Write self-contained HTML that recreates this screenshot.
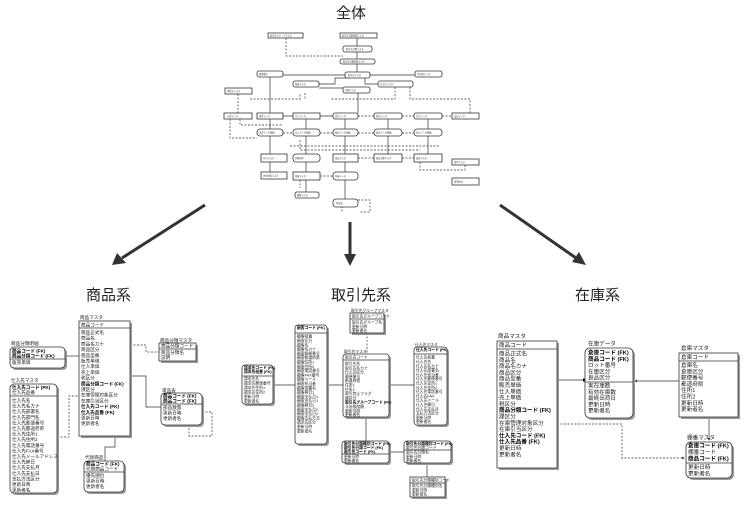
<!DOCTYPE html>
<html><head><meta charset="utf-8"><style>
html,body{margin:0;padding:0;background:#fff;}
svg{display:block;font-family:"Liberation Sans","Noto Sans CJK JP",sans-serif;}
.b{fill:#fff;stroke:#333;stroke-width:.8}
.s{fill:#999}
.l{stroke:#333;stroke-width:.7;fill:none}
.d{stroke:#333;stroke-width:.7;fill:none;stroke-dasharray:2,1.5}
.t{font-size:4.6px;fill:#222}
.tb{font-size:4.6px;fill:#000;font-weight:bold}
.m{font-size:3.8px;fill:#222}
.mb{font-size:3.8px;fill:#000;font-weight:bold}
.r{font-size:5.6px;fill:#222}
.rb{font-size:5.6px;fill:#000;font-weight:bold}
.o{font-size:2.2px;fill:#333}
</style></head><body>
<svg width="750" height="509" viewBox="0 0 750 509">
<defs><marker id="ah" markerWidth="4" markerHeight="4" refX="3" refY="2" orient="auto"><path d="M0,0 L4,2 L0,4z" fill="#333"/></marker></defs>
<text x="351" y="18" font-size="15" text-anchor="middle" fill="#222">全体</text>

<!-- overview -->
<g>
<path class="d" d="M286,38 V56 H343"/>
<path class="l" d="M357,38 V46 M357,52 V59 M357,64 V72 M345,75 H270 V113 M370,75 H415 M350,78 L335,78 V84 H319 M365,78 V84 L382,84 M319,88 H343 M358,93 V113 M270,119 V129 M306,119 V129 M345,119 V129 M388,119 V129 M428,119 V129 M270,136 V154 M306,136 V154 M345,136 V154 M388,136 V154 M428,136 V154 M345,162 V172 M306,162 V172 M270,162 V172 M345,180 V199 M306,180 V192 M283,116 H293 M320,116 H333"/>
<path class="d" d="M238,94 V113 M250,99 H300 V93 M305,93 V99 M395,87 V99 H330 M410,87 V99 H470 V113 M358,116 H374 M402,116 H414 M442,116 H452 M230,119 V138 H257 M240,119 V125 H283 M283,133 H293 M320,133 H333 M358,133 H374 M402,133 H414 M300,140 V150 H420 M290,146 H440 M358,158 H374 M402,158 H414 M420,162 V170 H465 V165 M320,176 H333 M358,200 H370 V212 H360 M300,180 V188 M342,206 V212"/>
<rect class="b" x="268" y="33" width="35" height="5"/><text class="o" x="270" y="36.6">取引先グループマスタ</text>
<rect class="b" x="340" y="33" width="37" height="5"/><text class="o" x="342" y="36.6">取引先分類明細マスタ</text>
<rect class="b" x="343" y="46" width="29" height="6" rx="2"/><text class="o" x="346" y="49.8">取引先分類マスタ</text>
<rect class="b" x="340" y="59" width="35" height="5" rx="2"/><text class="o" x="343" y="62.6">取引先分類明細マスタ</text>
<rect class="b" x="345" y="72" width="25" height="6" rx="2"/><text class="o" x="348" y="75.8">取引先マスタ</text>
<rect class="b" x="257" y="71" width="26" height="6" rx="2"/><text class="o" x="259" y="74.8">郵便番号</text>
<rect class="b" x="415" y="71" width="27" height="6" rx="2"/><text class="o" x="417" y="74.8">不定期データ</text>
<rect class="b" x="293" y="81" width="26" height="6" rx="2"/><text class="o" x="295" y="84.8">倉庫マスタ</text>
<rect class="b" x="343" y="87" width="27" height="6" rx="2"/><text class="o" x="345" y="90.8">分類マスタ</text>
<rect class="b" x="378" y="81" width="35" height="6" rx="2"/><text class="o" x="380" y="84.8">仕入先マスタ</text>
<rect class="b" x="225" y="88" width="27" height="6"/><text class="o" x="227" y="91.8">得意先マスタ</text>
<g>
<rect class="b" x="224" y="113" width="28" height="6"/><text class="o" x="227" y="116.8">入金データ</text>
<rect class="b" x="257" y="113" width="26" height="6"/><text class="o" x="259" y="116.8">請求データ</text>
<rect class="b" x="293" y="113" width="27" height="6"/><text class="o" x="295" y="116.8">売上データ</text>
<rect class="b" x="333" y="113" width="25" height="6" rx="2"/><text class="o" x="335" y="116.8">受注データ</text>
<rect class="b" x="374" y="113" width="28" height="6" rx="2"/><text class="o" x="376" y="116.8">発注データ</text>
<rect class="b" x="414" y="113" width="28" height="6" rx="2"/><text class="o" x="416" y="116.8">仕入データ</text>
<rect class="b" x="452" y="113" width="27" height="6"/><text class="o" x="454" y="116.8">支払データ</text>
<rect class="b" x="257" y="129" width="26" height="7" rx="3"/><text class="o" x="259" y="133.3">請求データ明細</text>
<rect class="b" x="293" y="129" width="27" height="7" rx="3"/><text class="o" x="295" y="133.3">売上データ明細</text>
<rect class="b" x="333" y="129" width="25" height="7" rx="3"/><text class="o" x="335" y="133.3">受注データ明細</text>
<rect class="b" x="374" y="129" width="28" height="7" rx="3"/><text class="o" x="376" y="133.3">発注データ明細</text>
<rect class="b" x="414" y="129" width="28" height="7" rx="3"/><text class="o" x="416" y="133.3">仕入データ明細</text>
<rect class="b" x="261" y="154" width="26" height="8"/><text class="o" x="263" y="158.8">SEQマスタ</text>
<rect class="b" x="293" y="154" width="27" height="8" rx="3"/><text class="o" x="295" y="158.8">消費税率</text>
<rect class="b" x="333" y="154" width="25" height="8"/><text class="o" x="335" y="158.8">商品マスタ</text>
<rect class="b" x="374" y="154" width="28" height="8"/><text class="o" x="376" y="158.8">商品分類マスタ</text>
<rect class="b" x="414" y="154" width="28" height="8"/><text class="o" x="416" y="158.8">社員マスタ</text>
<rect class="b" x="452" y="159" width="27" height="6"/><text class="o" x="454" y="162.8">部門マスタ</text>
<rect class="b" x="261" y="172" width="26" height="7"/><text class="o" x="263" y="176.3">会社情報マスタ</text>
<rect class="b" x="293" y="172" width="27" height="8"/><text class="o" x="295" y="176.8">倉庫マスタ</text>
<rect class="b" x="333" y="172" width="25" height="8" rx="3"/><text class="o" x="335" y="176.8">在庫データ</text>
<rect class="b" x="452" y="178" width="27" height="7"/><text class="o" x="454" y="182.3">部門社員</text>
<rect class="b" x="295" y="192" width="24" height="6" rx="2"/><text class="o" x="297" y="195.8">棚番マスタ</text>
<rect class="b" x="333" y="199" width="25" height="8" rx="3"/><text class="o" x="336" y="203.8">単品表</text>
</g>
</g>

<!-- big arrows -->
<path d="M205,205 L122,258" stroke="#333" stroke-width="3"/><path d="M112,265 L117,253 L126,263z" fill="#333"/>
<path d="M350,222 L350,256" stroke="#333" stroke-width="3"/><path d="M344,254 L356,254 L350,266z" fill="#333"/>
<path d="M500,205 L576,258" stroke="#333" stroke-width="3"/><path d="M586,265 L572,262 L579,252z" fill="#333"/>
<text x="86" y="300" font-size="15" fill="#222">商品系</text>
<text x="331" y="300" font-size="15" fill="#222">取引先系</text>
<text x="575" y="300" font-size="15" fill="#222">在庫系</text>

<!-- 商品系 -->
<g>
<path class="l" d="M79,356 H65"/><circle cx="66" cy="356" r="1.2" fill="#000"/>
<path class="l" d="M130,376 H146 V407 H161"/>
<path class="d" d="M130,345 H146 V352 H159"/>
<path class="d" d="M57,437 H69 V396 H79"/>
<path class="l" d="M115,436 V447 H105 V461"/>
<path class="d" d="M202,412 H212 V436 H189 V426"/>
<text class="t" x="80" y="319">商品マスタ</text>
<rect class="s" x="81" y="323" width="51" height="115"/><rect class="b" x="79" y="321" width="51" height="115"/>
<line class="l" x1="79" y1="328" x2="130" y2="328"/>
<text class="t" x="81" y="326.5">商品コード</text>
<g class="t">
<text x="81" y="334">商品正式名</text><text x="81" y="339.7">商品名</text><text x="81" y="345.4">商品名カナ</text><text x="81" y="351.1">商品区分</text><text x="81" y="356.8">商品型番</text><text x="81" y="362.5">販売単価</text><text x="81" y="368.2">仕入単価</text><text x="81" y="373.9">売上単価</text><text x="81" y="379.6">税区分</text>
<text x="81" y="385.3" class="tb">商品分類コード (FK)</text>
<text x="81" y="391">課区分</text><text x="81" y="396.7">在庫管理対象区分</text><text x="81" y="402.4">在庫引当区分</text>
<text x="81" y="408.1" class="tb">仕入先コード (FK)</text><text x="81" y="413.8" class="tb">仕入先品番 (FK)</text>
<text x="81" y="419.5">更新日時</text><text x="81" y="425.2">更新者名</text>
</g>
<text class="t" x="11" y="345">商品分類明細</text>
<rect class="s" x="12" y="349" width="55" height="21" rx="4"/><rect class="b" x="10" y="347" width="55" height="21" rx="4"/>
<line class="l" x1="10" y1="359" x2="65" y2="359"/>
<text class="tb" x="12" y="352.5">商品コード (FK)</text><text class="tb" x="12" y="357.5">商品分類コード (FK)</text><text class="t" x="12" y="364">販売単価</text>
<text class="t" x="11" y="382">仕入先マスタ</text>
<rect class="s" x="12" y="386" width="47" height="109" rx="4"/><rect class="b" x="10" y="384" width="47" height="109" rx="4"/>
<line class="l" x1="10" y1="396" x2="57" y2="396"/>
<g class="t"><text x="12" y="389" class="tb">仕入先コード (PK)</text><text x="12" y="394">仕入先品番</text>
<text x="12" y="402">仕入先名</text><text x="12" y="407.6">仕入先名カナ</text><text x="12" y="413.2">仕入先部署名</text><text x="12" y="418.8">仕入先部門名</text><text x="12" y="424.4">仕入先郵便番号</text><text x="12" y="430">仕入先都道府県</text><text x="12" y="435.6">仕入先住所1</text><text x="12" y="441.2">仕入先住所2</text><text x="12" y="446.8">仕入先電話番号</text><text x="12" y="452.4">仕入先FAX番号</text><text x="12" y="458">仕入先メールアドレス</text><text x="12" y="463.6">仕入先締日</text><text x="12" y="469.2">仕入先支払月</text><text x="12" y="474.8">仕入先支払日</text><text x="12" y="480.4">支払方法区分</text><text x="12" y="486">更新日時</text><text x="12" y="491.6">更新者名</text></g>
<text class="t" x="160" y="342">商品分類マスタ</text>
<rect class="s" x="161" y="345" width="37" height="18"/><rect class="b" x="159" y="343" width="37" height="18"/>
<line class="l" x1="159" y1="349" x2="196" y2="349"/>
<text class="t" x="161" y="347.5">商品分類コード</text><text class="t" x="161" y="353.8">商品分類名</text><text class="t" x="161" y="359">説明</text>
<text class="t" x="162" y="392">単品表</text>
<rect class="s" x="163" y="395" width="41" height="32" rx="4"/><rect class="b" x="161" y="393" width="41" height="32" rx="4"/>
<line class="l" x1="161" y1="404" x2="202" y2="404"/>
<text class="tb" x="163" y="397.5">商品コード (FK)</text><text class="tb" x="163" y="402.5">商品コード (FK)</text>
<text class="t" x="163" y="409">部品数量</text><text class="t" x="163" y="414.6">更新日時</text><text class="t" x="163" y="420.2">更新者名</text>
<text class="t" x="85" y="459">代替商品</text>
<rect class="s" x="86" y="463" width="40" height="31" rx="4"/><rect class="b" x="84" y="461" width="40" height="31" rx="4"/>
<line class="l" x1="84" y1="472" x2="124" y2="472"/>
<text class="tb" x="86" y="465.5">商品コード (FK)</text><text class="t" x="86" y="470.5">代替商品コード</text>
<text class="t" x="86" y="477">優先順位</text><text class="t" x="86" y="482.6">更新日時</text><text class="t" x="86" y="488.2">更新者名</text>
</g>

<!-- 取引先系 -->
<g>
<path class="l" d="M295,385 H273 M343,385 H327 M389,385 H414 M366,417 V441 M404,452 H389 M427,463 V477"/>
<path class="d" d="M367,333 V354"/>
<rect class="s" x="244" y="367" width="31" height="39" rx="3"/><rect class="b" x="242" y="365" width="31" height="39" rx="3"/>
<line class="l" x1="242" y1="376" x2="273" y2="376"/>
<g class="m"><text x="244" y="369" class="mb">請求先コード (FK)</text><text x="244" y="373" class="mb">請求先枝番 (FK)</text><text x="244" y="380">請求先名</text><text x="244" y="384.5">請求先郵便番号</text><text x="244" y="389">請求先住所1</text><text x="244" y="393.5">請求先住所2</text><text x="244" y="398">更新日時</text><text x="244" y="402.3">更新者名</text></g>
<rect class="s" x="297" y="327" width="32" height="119" rx="3"/><rect class="b" x="295" y="325" width="32" height="119" rx="3"/>
<line class="l" x1="295" y1="333" x2="327" y2="333"/>
<g class="m"><text x="297" y="329" class="mb">顧客コード (PK)</text><text x="297" y="337.5">顧客枝番</text>
<text x="297" y="342">顧客区分</text><text x="297" y="346.3">顧客名</text><text x="297" y="350.6">顧客名カナ</text><text x="297" y="354.9">顧客郵便番号</text><text x="297" y="359.2">顧客都道府県</text><text x="297" y="363.5">顧客住所1</text><text x="297" y="367.8">顧客住所2</text><text x="297" y="372.1">顧客電話番号</text><text x="297" y="376.4">顧客FAX番号</text><text x="297" y="380.7">顧客メール</text><text x="297" y="385">顧客担当者</text><text x="297" y="389.3">顧客部署名</text><text x="297" y="393.6">顧客締日1</text><text x="297" y="397.9">顧客支払月1</text><text x="297" y="402.2">顧客支払日1</text><text x="297" y="406.5">顧客締日2</text><text x="297" y="410.8">顧客支払月2</text><text x="297" y="415.1">顧客支払日2</text><text x="297" y="419.4">顧客支払方法</text><text x="297" y="423.7">請求先区分</text><text x="297" y="428">更新日時</text><text x="297" y="432.3">更新者名</text></g>
<text class="m" x="351" y="312">取引先グループマスタ</text>
<rect class="s" x="352" y="315" width="34" height="20"/><rect class="b" x="350" y="313" width="34" height="20"/>
<line class="l" x1="350" y1="319" x2="384" y2="319"/>
<text class="m" x="352" y="317.5">取引先グループコード</text><text class="m" x="352" y="323.5">取引先グループ名</text><text class="m" x="352" y="327.8">更新日時</text><text class="m" x="352" y="332">更新者名</text>
<text class="m" x="344" y="353">取引先マスタ</text>
<rect class="s" x="345" y="356" width="46" height="63" rx="3"/><rect class="b" x="343" y="354" width="46" height="63" rx="3"/>
<line class="l" x1="343" y1="360" x2="389" y2="360"/>
<g class="m"><text x="345" y="358.5">取引先コード</text><text x="345" y="365">取引先名</text><text x="345" y="369.3">取引先名カナ</text><text x="345" y="373.6">仕入先区分</text><text x="345" y="377.9">郵便番号</text><text x="345" y="382.2">都道府県</text><text x="345" y="386.5">住所1</text><text x="345" y="390.8">住所2</text><text x="345" y="395.1">取引禁止フラグ</text><text x="345" y="399.4">雑区分</text><text x="345" y="403.7" class="mb">取引先グループコード (FK)</text><text x="345" y="408">与信限度額</text><text x="345" y="412.3">更新日時</text><text x="345" y="416.2">更新者名</text></g>
<text class="m" x="415" y="346">仕入先マスタ</text>
<rect class="s" x="416" y="349" width="33" height="78" rx="3"/><rect class="b" x="414" y="347" width="33" height="78" rx="3"/>
<line class="l" x1="414" y1="354" x2="447" y2="354"/>
<g class="m"><text x="416" y="351" class="mb">仕入先コード (PK)</text><text x="416" y="358.5">仕入先枝番</text><text x="416" y="363">仕入先名</text><text x="416" y="367.3">仕入先名カナ</text><text x="416" y="371.6">仕入先部署名</text><text x="416" y="375.9">仕入先担当者</text><text x="416" y="380.2">仕入先郵便番号</text><text x="416" y="384.5">仕入先住所1</text><text x="416" y="388.8">仕入先住所2</text><text x="416" y="393.1">仕入先電話番号</text><text x="416" y="397.4">仕入先FAX</text><text x="416" y="401.7">仕入先メール</text><text x="416" y="406">仕入先締日</text><text x="416" y="410.3">仕入先支払月</text><text x="416" y="414.6">支払方法区分</text><text x="416" y="418.9">更新日時</text><text x="416" y="423">更新者名</text></g>
<rect class="s" x="344" y="443" width="47" height="22" rx="3"/><rect class="b" x="342" y="441" width="47" height="22" rx="3"/>
<line class="l" x1="342" y1="454" x2="389" y2="454"/>
<text class="mb" x="344" y="445">取引先分類種別コード (FK)</text><text class="mb" x="344" y="449">取引先分類コード (FK)</text><text class="mb" x="344" y="453">取引先コード (FK)</text><text class="m" x="344" y="458">更新日時</text><text class="m" x="344" y="462">更新者名</text>
<rect class="s" x="406" y="443" width="47" height="22" rx="3"/><rect class="b" x="404" y="441" width="47" height="22" rx="3"/>
<line class="l" x1="404" y1="450" x2="451" y2="450"/>
<text class="mb" x="406" y="445">取引先分類種別コード (FK)</text><text class="m" x="406" y="449">取引先分類コード</text><text class="m" x="406" y="453.5">取引先分類名</text><text class="m" x="406" y="458">更新日時</text><text class="m" x="406" y="462">更新者名</text>
<rect class="s" x="412" y="479" width="35" height="20"/><rect class="b" x="410" y="477" width="35" height="20"/>
<line class="l" x1="410" y1="483" x2="445" y2="483"/>
<text class="m" x="412" y="481.5">取引先分類種別コード</text><text class="m" x="412" y="487">取引先分類種別名</text><text class="m" x="412" y="491.3">更新日時</text><text class="m" x="412" y="495.5">更新者名</text>
</g>

<!-- 在庫系 -->
<g>
<path class="l" d="M557,380 H585"/><rect x="583" y="378.5" width="3" height="3" fill="#000"/>
<path class="l" d="M679,381 H635" marker-end="url(#ah)"/>
<path class="l" d="M709,417 V440" marker-end="url(#ah)"/>
<path class="d" d="M557,424 H622 V458 H684" marker-end="url(#ah)"/>
<text class="r" x="498" y="338">商品マスタ</text>
<rect class="s" x="499" y="343" width="60" height="127"/><rect class="b" x="497" y="341" width="60" height="127"/>
<line class="l" x1="497" y1="349" x2="557" y2="349"/>
<text class="r" x="499" y="347">商品コード</text>
<g class="r"><text x="499" y="355.5">商品正式名</text><text x="499" y="361.8">商品名</text><text x="499" y="368.1">商品名カナ</text><text x="499" y="374.4">商品区分</text><text x="499" y="380.7">商品型番</text><text x="499" y="387">販売単価</text><text x="499" y="393.3">仕入単価</text><text x="499" y="399.6">売上単価</text><text x="499" y="405.9">税区分</text><text x="499" y="412.2" class="rb">商品分類コード (FK)</text><text x="499" y="418.5">課区分</text><text x="499" y="424.8">在庫管理対象区分</text><text x="499" y="431.1">在庫引当区分</text><text x="499" y="437.4" class="rb">仕入先コード (FK)</text><text x="499" y="443.7" class="rb">仕入先品番 (FK)</text><text x="499" y="450">更新日時</text><text x="499" y="456.3">更新者名</text></g>
<text class="r" x="588" y="345.5">在庫データ</text>
<rect class="s" x="587" y="350" width="48" height="70" rx="5"/><rect class="b" x="585" y="348" width="48" height="70" rx="5"/>
<line class="l" x1="585" y1="382" x2="633" y2="382"/>
<g class="r"><text x="588" y="354.5" class="rb">倉庫コード (FK)</text><text x="588" y="360.8" class="rb">商品コード (FK)</text><text x="588" y="367.1">ロット番号</text><text x="588" y="373.4">在庫区分</text><text x="588" y="379.7">良品区分</text><text x="588" y="387.5">実在庫数</text><text x="588" y="393.8">有効在庫数</text><text x="588" y="400.1">最終出荷日</text><text x="588" y="406.4">更新日時</text><text x="588" y="412.7">更新者名</text></g>
<text class="r" x="681" y="350">倉庫マスタ</text>
<rect class="s" x="681" y="355" width="59" height="64"/><rect class="b" x="679" y="353" width="59" height="64"/>
<line class="l" x1="679" y1="361" x2="738" y2="361"/>
<g class="r"><text x="681" y="359">倉庫コード</text><text x="681" y="367">倉庫名</text><text x="681" y="373.3">倉庫区分</text><text x="681" y="379.6">郵便番号</text><text x="681" y="385.9">都道府県</text><text x="681" y="392.2">住所1</text><text x="681" y="398.5">住所2</text><text x="681" y="404.8">更新日時</text><text x="681" y="411.1">更新者名</text></g>
<text class="r" x="687" y="439.5">棚番マスタ</text>
<rect class="s" x="688" y="444" width="46" height="36" rx="5"/><rect class="b" x="686" y="442" width="46" height="36" rx="5"/>
<line class="l" x1="686" y1="463" x2="732" y2="463"/>
<text class="rb" x="688" y="447.5">倉庫コード (FK)</text><text class="r" x="688" y="454">棚番コード</text><text class="rb" x="688" y="460.5">商品コード (FK)</text><text class="r" x="688" y="469">更新日時</text><text class="r" x="688" y="475.3">更新者名</text>
</g>
</svg>
</body></html>
